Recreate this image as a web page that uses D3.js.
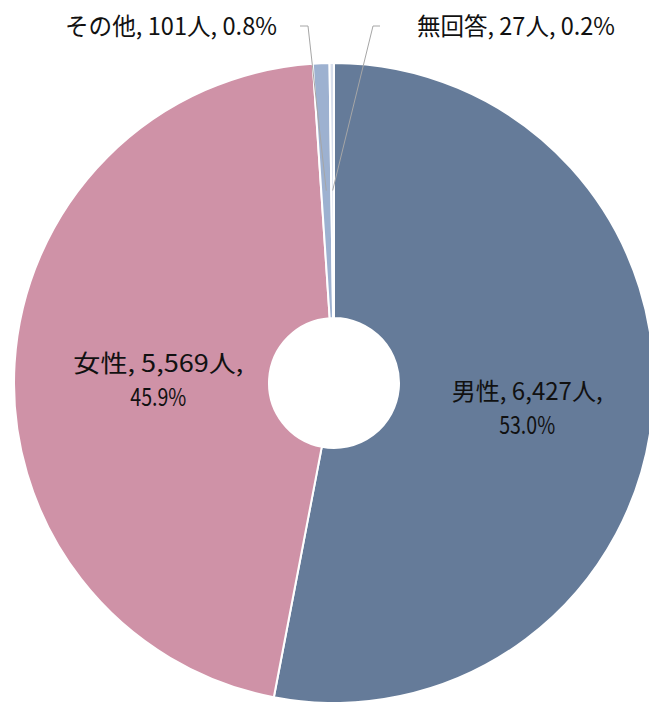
<!DOCTYPE html>
<html>
<head>
<meta charset="utf-8">
<script src="https://cdn.jsdelivr.net/npm/d3@7"></script>
<style>
  body { margin: 0; background: #fff; }
  text { font-family: "Liberation Sans Narrow", "Noto Sans CJK JP", sans-serif; fill: #111; }
</style>
</head>
<body>
<svg id="chart" width="649" height="702"></svg>
<script>
// data
var categories = ["男性", "女性", "その他", "無回答"];
var counts = [6427, 5569, 101, 27];
var percents = ["53.0%", "45.9%", "0.8%", "0.2%"];
var colors = ["#657b99", "#cf92a7", "#9db1d0", "#d8dfec"];

var cx = 334, cy = 383;
var outerR = 320, innerR = 65;

var svg = d3.select("#chart");
var g = svg.append("g").attr("transform", "translate(" + cx + "," + cy + ")");

var pie = d3.pie().sort(null).value((d) => d)(counts);
var arc = d3.arc().innerRadius(innerR).outerRadius(outerR);
var midArc = d3.arc().innerRadius(innerR).outerRadius(outerR);
var labelArc = d3.arc().innerRadius(185).outerRadius(185);

g.selectAll("path")
  .data(pie)
  .enter()
  .append("path")
  .attr("d", arc)
  .attr("fill", (d, i) => colors[i])
  .attr("stroke", "#fff")
  .attr("stroke-width", 2);

var fmt = d3.format(",");

// inside labels (two lines)
[0, 1].forEach(function(i) {
  var c = labelArc.centroid(pie[i]);
  var t = g.append("text")
    .attr("text-anchor", "middle")
    .attr("font-size", 24);
  var l1 = categories[i] + ", " + fmt(counts[i]) + "人,";
  t.append("tspan")
    .attr("x", c[0] + 9)
    .attr("y", c[1] - 9 + 9)
    .attr("textLength", i == 0 ? 151 : 170)
    .attr("lengthAdjust", "spacingAndGlyphs")
    .text(l1);
  t.append("tspan")
    .attr("x", c[0] + 9)
    .attr("y", c[1] + 25 + 9)
    .attr("textLength", 56)
    .attr("lengthAdjust", "spacingAndGlyphs")
    .text(percents[i]);
});

// outside labels with leader lines
var outside = [
  {i: 2, anchor: "end", tx: 277, lx0: 300, lx1: 308, len: 212},
  {i: 3, anchor: "start", tx: 417, lx0: 380, lx1: 373, len: 198}
];
var labelY = 26;

outside.forEach(function(o) {
  var c = midArc.centroid(pie[o.i]);
  svg.append("polyline")
    .attr("points", [[o.lx0, labelY], [o.lx1, labelY], [cx + c[0], cy + c[1]]].join(" "))
    .attr("fill", "none")
    .attr("stroke", "#a6a6a6")
    .attr("stroke-width", 1);
  svg.append("text")
    .attr("x", o.tx)
    .attr("y", labelY + 9)
    .attr("text-anchor", o.anchor)
    .attr("font-size", 24)
    .attr("textLength", o.len)
    .attr("lengthAdjust", "spacingAndGlyphs")
    .text(categories[o.i] + ", " + fmt(counts[o.i]) + "人, " + percents[o.i]);
});
</script>
</body>
</html>
